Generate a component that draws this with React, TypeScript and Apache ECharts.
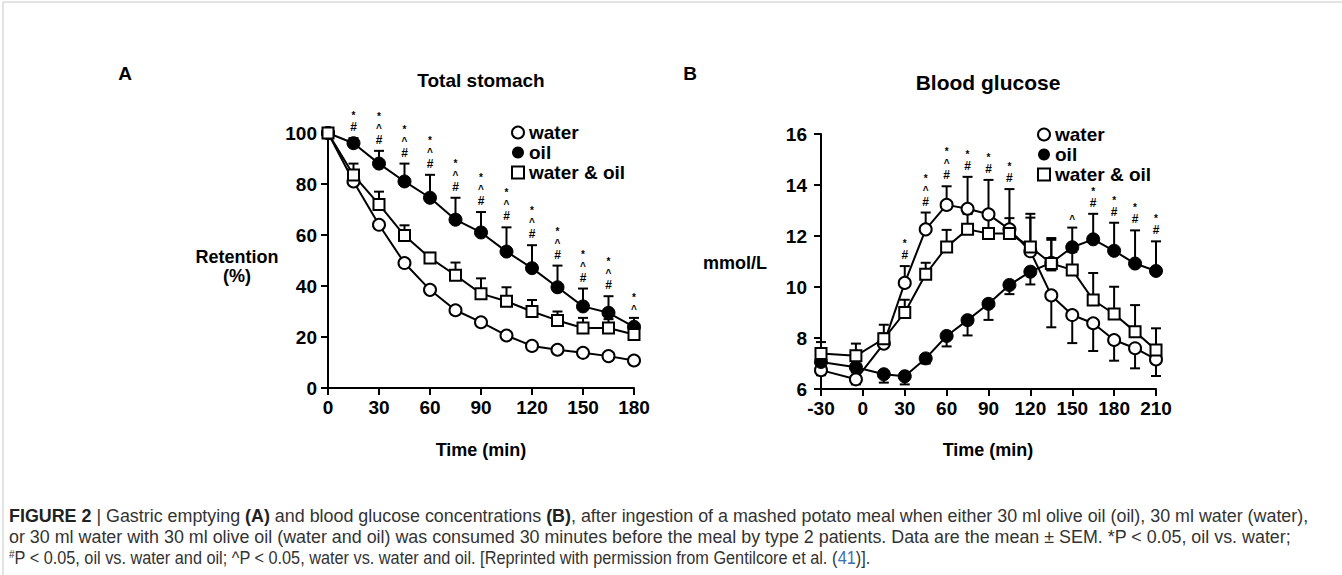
import React, { useEffect, useRef } from 'react';
import * as echarts from 'echarts';

// ---------- Panel A: Total stomach retention (%) ----------
const timesA = [0, 15, 30, 45, 60, 75, 90, 105, 120, 135, 150, 165, 180];
const waterA = [100, 81, 64, 49, 38.5, 30.5, 25.8, 20.6, 16.5, 15, 13.8, 12.5, 10.8];
const oilA = [100, 96, 88, 81, 74.6, 66, 61, 53.5, 47, 39.5, 32, 29.5, 24];
const woA = [100, 83.5, 72, 59.8, 51, 44.2, 37, 34, 30, 26.5, 23.5, 23.5, 21];
const oilSemUpA = [0, 2, 5, 7, 9, 8.6, 8, 9.5, 9, 8.5, 7, 6.5, 3.5];
const woSemUpA = [0, 4.5, 5, 4, 2, 5, 6, 5.5, 4.5, 3.5, 4, 3.5, 3.5];
const sigA = ['', '*#', '*^#', '*^#', '*^#', '*^#', '*^#', '*^#', '*^#', '*^#', '*^#', '*^#', '*^'];
const xTicksA = { min: 0, max: 180, interval: 30 };
const yTicksA = { min: 0, max: 100, interval: 20 };

// ---------- Panel B: Blood glucose (mmol/L) ----------
const timesB = [-30, -5, 15, 30, 45, 60, 75, 90, 105, 120, 135, 150, 165, 180, 195, 210];
const waterB = [6.74, 6.38, 7.78, 10.16, 12.26, 13.22, 13.07, 12.85, 12.26, 11.4, 9.67, 8.9, 8.58, 7.92, 7.6, 7.16];
const oilB = [7.06, 6.85, 6.58, 6.5, 7.2, 8.08, 8.7, 9.34, 10.08, 10.6, 10.95, 11.56, 11.87, 11.42, 10.92, 10.63];
const woB = [7.39, 7.3, 7.97, 9.0, 10.5, 11.57, 12.26, 12.1, 12.1, 11.57, 10.92, 10.67, 9.49, 8.94, 8.25, 7.53];
const waterUpB = [0, 0, 0.4, 0.66, 0.66, 0.73, 1.25, 1.35, 1.58, 1.47, 0, 0, 0, 0, 0, 0];
const waterDnB = [0.2, 0.2, 0, 0, 0, 0, 0, 0, 0, 0, 1.25, 1.1, 1.09, 0.81, 0.79, 0.65];
const oilUpB = [0, 0, 0, 0, 0, 0, 0, 0, 0, 0, 0.9, 0.77, 1.0, 1.1, 1.3, 1.16];
const oilDnB = [0.2, 0.2, 0.33, 0.32, 0.2, 0.41, 0.6, 0.63, 0.36, 0.5, 0.3, 0, 0, 0, 0, 0];
const woUpB = [0.45, 0.48, 0.55, 0.5, 0.45, 0.67, 0.6, 0.6, 0.6, 1.15, 1.0, 0.7, 1.06, 1.07, 1.04, 0.85];
const sigB = ['', '', '', '*#', '*^#', '*^#', '*#', '*#', '*#', '', '', '^', '*#', '*#', '*#', '*#'];
const xTicksB = { min: -30, max: 210, interval: 30 };
const yTicksB = { min: 6, max: 16, interval: 2 };

const FONT = 'Liberation Sans, Arial, Helvetica, sans-serif';

const captionLines = [
  '{b|FIGURE 2} | Gastric emptying {b|(A)} and blood glucose concentrations {b|(B)}, after ingestion of a mashed potato meal when either 30 ml olive oil (oil), 30 ml water (water),',
  'or 30 ml water with 30 ml olive oil (water and oil) was consumed 30 minutes before the meal by type 2 patients. Data are the mean ± SEM. *P < 0.05, oil vs. water;',
  '{sup|#}P < 0.05, oil vs. water and oil; ^P < 0.05, water vs. water and oil. [Reprinted with permission from Gentilcore et al. ({link|41})].',
];
const captionScaleX = [1, 1, 0.91];

function measureRich(line: string, size: number) {
  const ctx = document.createElement('canvas').getContext('2d');
  if (!ctx) return line.length * size * 0.5;
  let w = 0;
  const re = /\{(\w+)\|([^}]*)\}|([^{]+)/g;
  let m: RegExpExecArray | null;
  while ((m = re.exec(line))) {
    if (m[3]) {
      ctx.font = `${size}px ${FONT}`;
      w += ctx.measureText(m[3]).width;
    } else if (m[1] === 'b') {
      ctx.font = `bold ${size}px ${FONT}`;
      w += ctx.measureText(m[2]).width;
    } else {
      ctx.font = `${size}px ${FONT}`;
      w += ctx.measureText(m[2]).width;
    }
  }
  return w;
}

function errData(times: number[], vals: number[], up: number[], dn: number[]) {
  return times.map((t, i) => [t, vals[i], up[i], dn[i]]);
}

const errorRender = (params: any, api: any) => {
  const x = api.value(0);
  const y = api.value(1);
  const up = api.value(2);
  const dn = api.value(3);
  const p = api.coord([x, y]);
  const children: any[] = [];
  const stroke = { stroke: '#000', lineWidth: 2 };
  const cap = 5;
  if (up > 0) {
    const t = api.coord([x, y + up]);
    children.push({ type: 'line', shape: { x1: p[0], y1: p[1], x2: t[0], y2: t[1] }, style: stroke });
    children.push({ type: 'line', shape: { x1: t[0] - cap, y1: t[1], x2: t[0] + cap, y2: t[1] }, style: stroke });
  }
  if (dn > 0) {
    const b = api.coord([x, y - dn]);
    children.push({ type: 'line', shape: { x1: p[0], y1: p[1], x2: b[0], y2: b[1] }, style: stroke });
    children.push({ type: 'line', shape: { x1: b[0] - cap, y1: b[1], x2: b[0] + cap, y2: b[1] }, style: stroke });
  }
  return { type: 'group', children };
};

// stacked marks: "*" over "^" over "#", bottom one just above the error-bar cap
const makeSigRender = (marks: string[]) => (params: any, api: any) => {
  const s = marks[params.dataIndex] || '';
  const p = api.coord([api.value(0), api.value(1)]);
  const chars = s.split('').reverse();
  let bottom = p[1] - 4;
  const children = chars.map((c) => {
    const size = c === '#' ? 12 : 10;
    const step = c === '#' ? 14 : 12;
    const center = bottom - step / 2;
    bottom -= step;
    return {
      type: 'text',
      x: p[0],
      y: center + (c === '#' ? 0 : 1.5),
      style: {
        text: c,
        fill: '#000',
        font: `bold ${size}px ${FONT}`,
        align: 'center',
        verticalAlign: 'middle',
      },
    };
  });
  return { type: 'group', children };
};

const styles: Record<string, any> = {
  water: { symbol: 'circle', size: 12, itemStyle: { color: '#fff', borderColor: '#000', borderWidth: 2 } },
  oil: { symbol: 'circle', size: 13, itemStyle: { color: '#000', borderColor: '#000', borderWidth: 1 } },
  'water & oil': { symbol: 'rect', size: 11, itemStyle: { color: '#fff', borderColor: '#000', borderWidth: 2 } },
};

function lineSeries(name: string, times: number[], vals: number[], idx: number) {
  return {
    type: 'line',
    name,
    xAxisIndex: idx,
    yAxisIndex: idx,
    data: times.map((t, i) => [t, vals[i]]),
    symbol: styles[name].symbol,
    symbolSize: styles[name].size,
    itemStyle: styles[name].itemStyle,
    lineStyle: { color: '#000', width: 2 },
    z: 3,
  };
}

function axisCommon(margin: number) {
  return {
    axisLine: { show: true, onZero: false, lineStyle: { color: '#000', width: 2 } },
    axisTick: { show: true, inside: false, length: 7, lineStyle: { color: '#000', width: 2 } },
    axisLabel: { color: '#000', fontFamily: FONT, fontWeight: 'bold', fontSize: 19, margin },
    splitLine: { show: false },
  };
}

function legendFor(left: number, top: number) {
  return {
    orient: 'vertical',
    left,
    top,
    padding: 0,
    itemGap: 1,
    itemWidth: 12,
    itemHeight: 12,
    selectedMode: false,
    textStyle: { fontFamily: FONT, fontWeight: 'bold', fontSize: 19, color: '#000', lineHeight: 18 },
    data: [
      { name: 'water', icon: 'circle', itemStyle: { color: '#fff', borderColor: '#000', borderWidth: 2 } },
      { name: 'oil', icon: 'circle', itemStyle: { color: '#000', borderColor: '#000', borderWidth: 0 } },
      { name: 'water & oil', icon: 'rect', itemStyle: { color: '#fff', borderColor: '#000', borderWidth: 2 } },
    ],
  };
}

const bold = (size: number) => `bold ${size}px ${FONT}`;

export default function App() {
  const ref = useRef<HTMLDivElement>(null);

  useEffect(() => {
    document.body.style.margin = '0';
    const chart = echarts.init(ref.current!, null, { renderer: 'svg' });

    const topsA = timesA.map((_, i) => Math.max(oilA[i] + oilSemUpA[i], woA[i] + woSemUpA[i], waterA[i]));
    const topsB = timesB.map((_, i) =>
      Math.max(waterB[i] + waterUpB[i], oilB[i] + oilUpB[i], woB[i] + woUpB[i])
    );

    const baseSize = 16;
    const w1 = measureRich(captionLines[0], baseSize);
    const capSize = Math.min(19, Math.max(13, (baseSize * 1300) / w1));

    const option: any = {
      animation: false,
      backgroundColor: '#fff',
      textStyle: { fontFamily: FONT },
      grid: [
        { left: 328, top: 133, width: 306, height: 255 },
        { left: 821, top: 134, width: 335, height: 255 },
      ],
      xAxis: [
        { type: 'value', gridIndex: 0, ...xTicksA, ...axisCommon(10) },
        { type: 'value', gridIndex: 1, ...xTicksB, ...axisCommon(10) },
      ],
      yAxis: [
        { type: 'value', gridIndex: 0, ...yTicksA, ...axisCommon(11) },
        { type: 'value', gridIndex: 1, ...yTicksB, ...axisCommon(14) },
      ],
      legend: [legendFor(511, 123), legendFor(1037, 125)],
      graphic: [
        { type: 'line', shape: { x1: 3, y1: 2, x2: 1342, y2: 2 }, style: { stroke: '#c8c8c8', lineWidth: 1 } },
        { type: 'line', shape: { x1: 3, y1: 2, x2: 3, y2: 575 }, style: { stroke: '#c8c8c8', lineWidth: 1 } },
        { type: 'text', x: 125, y: 73, style: { text: 'A', font: bold(19), fill: '#000', align: 'center', verticalAlign: 'middle' } },
        { type: 'text', x: 481, y: 80, style: { text: 'Total stomach', font: bold(19), fill: '#000', align: 'center', verticalAlign: 'middle' } },
        { type: 'text', x: 690, y: 73, style: { text: 'B', font: bold(19), fill: '#000', align: 'center', verticalAlign: 'middle' } },
        { type: 'text', x: 988, y: 82, style: { text: 'Blood glucose', font: bold(21), fill: '#000', align: 'center', verticalAlign: 'middle' } },
        { type: 'text', x: 237, y: 266, style: { text: 'Retention\n(%)', font: bold(18), fill: '#000', align: 'center', verticalAlign: 'middle', lineHeight: 19 } },
        { type: 'text', x: 735, y: 263, style: { text: 'mmol/L', font: bold(18), fill: '#000', align: 'center', verticalAlign: 'middle' } },
        { type: 'text', x: 481, y: 450, style: { text: 'Time (min)', font: bold(18), fill: '#000', align: 'center', verticalAlign: 'middle' } },
        { type: 'text', x: 988, y: 450, style: { text: 'Time (min)', font: bold(18), fill: '#000', align: 'center', verticalAlign: 'middle' } },
        ...captionLines.map((line, i) => ({
          type: 'text',
          x: 9,
          y: 516 + i * 21,
          scaleX: captionScaleX[i],
          style: {
            text: line,
            font: `${capSize}px ${FONT}`,
            fill: '#333',
            verticalAlign: 'middle',
            rich: {
              b: { font: `bold ${capSize}px ${FONT}`, fill: '#222' },
              sup: { font: `${Math.round(capSize * 0.62)}px ${FONT}`, fill: '#333', verticalAlign: 'top', padding: [0, 0, 9, 0] },
              link: { font: `${capSize}px ${FONT}`, fill: '#3a6fb0' },
            },
          },
        })),
      ],
      series: [
        {
          type: 'custom',
          name: 'errA',
          xAxisIndex: 0,
          yAxisIndex: 0,
          renderItem: errorRender,
          data: [
            ...errData(timesA, oilA, oilSemUpA, timesA.map(() => 0)),
            ...errData(timesA, woA, woSemUpA, timesA.map(() => 0)),
          ],
          z: 1,
          silent: true,
        },
        lineSeries('water', timesA, waterA, 0),
        lineSeries('oil', timesA, oilA, 0),
        lineSeries('water & oil', timesA, woA, 0),
        {
          type: 'custom',
          name: 'sigA',
          xAxisIndex: 0,
          yAxisIndex: 0,
          renderItem: makeSigRender(sigA),
          data: timesA.map((t, i) => [t, topsA[i]]),
          z: 4,
          silent: true,
        },
        {
          type: 'custom',
          name: 'errB',
          xAxisIndex: 1,
          yAxisIndex: 1,
          renderItem: errorRender,
          data: [
            ...errData(timesB, waterB, waterUpB, waterDnB),
            ...errData(timesB, oilB, oilUpB, oilDnB),
            ...errData(timesB, woB, woUpB, timesB.map(() => 0)),
          ],
          z: 1,
          silent: true,
        },
        lineSeries('water', timesB, waterB, 1),
        lineSeries('oil', timesB, oilB, 1),
        lineSeries('water & oil', timesB, woB, 1),
        {
          type: 'custom',
          name: 'sigB',
          xAxisIndex: 1,
          yAxisIndex: 1,
          renderItem: makeSigRender(sigB),
          data: timesB.map((t, i) => [t, topsB[i]]),
          z: 4,
          silent: true,
        },
      ],
    };

    chart.setOption(option);
    return () => chart.dispose();
  }, []);

  return <div ref={ref} style={{ width: 1342, height: 575 }} />;
}
